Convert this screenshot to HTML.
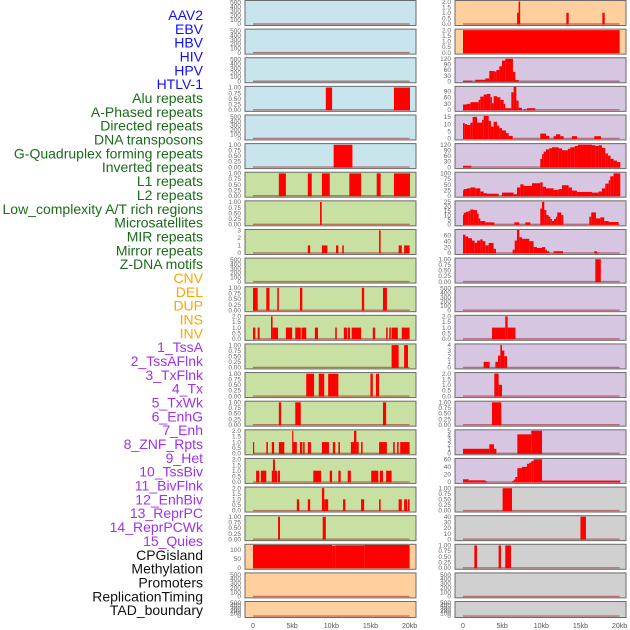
<!DOCTYPE html>
<html><head><meta charset="utf-8">
<style>
html,body{margin:0;padding:0;background:#fff;}
svg{display:block;font-family:"Liberation Sans",sans-serif;}
</style></head>
<body>
<svg id="chart" width="630" height="630" viewBox="0 0 630 630">
<g id="labels"></g>
<g id="panels"></g>
<g id="xaxes"></g>
</svg>
<script>
// ---------------- data ----------------
const trackLabels = ["AAV2","EBV","HBV","HIV","HPV","HTLV-1",
"Alu repeats","A-Phased repeats","Directed repeats","DNA transposons","G-Quadruplex forming repeats","Inverted repeats","L1 repeats","L2 repeats","Low_complexity A/T rich regions","Microsatellites","MIR repeats","Mirror repeats","Z-DNA motifs",
"CNV","DEL","DUP","INS","INV",
"1_TssA","2_TssAFlnk","3_TxFlnk","4_Tx","5_TxWk","6_EnhG","7_Enh","8_ZNF_Rpts","9_Het","10_TssBiv","11_BivFlnk","12_EnhBiv","13_ReprPC","14_ReprPCWk","15_Quies",
"CPGisland","Methylation","Promoters","ReplicationTiming","TAD_boundary"];
const labelGroupSizes = [6,13,5,15,5];
const labelGroupColors = ["#1010ff","#1a6b1a","#ffa500","#a030f0","#111111"];

const xTickValues = [0,5,10,15,20];
const xTickLabels = ["0","5kb","10kb","15kb","20kb"];

const T500 = ["0","100","200","300","400","500"];
const T1 = ["0.00","0.25","0.50","0.75","1.00"];
const T2 = ["0.0","0.5","1.0","1.5","2.0"];

// left column
const leftBg = ["b","b","b","b","b","b","g","g","g","g","g","g","g","g","g","g","g","g","g","p","p","p"];
const leftMax = [530,530,530,1.03,530,1.03,1.03,1.03,3.05,530,1.03,2.05,1.03,1.03,1.03,2.05,2.05,2.05,1.03,129,530,530];
const leftTicks = [T500,T500,T500,T1,T500,T1,T1,T1,["0","1","2","3"],T500,T1,T2,T1,T1,T1,T2,T2,T2,T1,["0","50","100"],T500,T500];
const leftSegs = [
[],[],[],
[[9.3,10.1,1],[18.0,20.05,1]],
[],
[[10.3,12.7,1]],
[[3.3,4.2,1],[7.0,7.5,1],[8.8,9.8,1],[12.3,13.8,1],[15.8,16.3,1],[18.0,20.05,1]],
[[8.56,8.77,1]],
[[7.0,7.3,1],[8.8,9.5,1],[10.6,10.9,1],[11.4,11.6,1],[16.1,16.3,3],[18.6,19.0,1],[19.3,20.0,1]],
[],
[[0,0.6,1],[1.7,2.1,1],[3.1,3.3,1],[6.0,6.3,1],[13.9,14.2,1],[16.6,17.1,1]],
[[0,0.3,1],[0.6,0.85,1],[2.3,2.5,2],[2.5,3.2,1],[4.2,5.0,1],[5.4,6.1,1],[6.2,6.8,1],[7.9,8.3,1],[10.5,10.7,1],[11.6,12.0,1],[12.1,12.4,1],[12.6,13.8,1],[15.3,15.6,1],[17.0,17.2,1],[17.4,17.6,1],[17.7,18.5,1],[19.0,20.0,1]],
[[17.7,18.6,1],[19.3,19.8,1]],
[[6.8,7.8,1],[8.4,9.1,1],[9.6,10.9,1],[15.0,15.3,1],[15.7,16.1,1]],
[[3.3,3.6,1],[5.4,6.1,1],[16.6,17.0,1]],
[[0,0.15,1],[1.7,1.9,1],[2.4,2.7,1],[3.3,4.0,1],[5.0,5.1,2],[5.1,5.6,1],[6.0,6.3,1],[6.4,6.6,1],[7.0,7.4,1],[8.8,9.7,1],[10.2,10.5,1],[10.9,11.1,1],[12.5,12.9,1],[12.9,13.2,2],[13.2,13.5,1],[13.8,14.0,1],[16.1,17.1,1],[17.9,18.1,1],[18.4,18.6,1],[18.8,20.0,1]],
[[0.4,0.8,1],[1.0,1.7,1],[2.4,2.55,1],[2.55,2.8,2],[2.8,3.1,1],[3.2,3.45,1],[7.7,8.7,1],[9.8,10.1,1],[10.9,11.2,1],[12.1,12.5,1],[15.1,16.0,1],[16.2,16.6,1],[17.0,17.7,1]],
[[5.6,5.9,1],[7.0,7.3,1],[8.8,9.1,2],[9.1,9.6,1],[11.5,11.8,1],[13.8,14.2,1],[16.1,16.3,1],[18.6,19.0,1],[19.3,19.7,1],[19.8,20.0,1]],
[[3.2,3.45,1],[8.9,9.3,1]],
[[0,10.1,128],[10.1,10.5,124],[10.5,14.2,126],[14.2,20.0,128]],
[],[]
];

// right column
const rightBg = ["p","p","u","u","u","u","u","u","u","u","u","u","u","u","u","u","u","k","k","k","k","k"];
const rightMax = [2.05,2.05,123,111,16,123,103,25.5,78,1.03,530,2.05,4.1,2.05,1.03,5.1,61,1.03,41,1.03,530,530];
const rightTicks = [T2,T2,["0","30","60","90","120"],["0","30","60","90"],["0","5","10","15"],["0","30","60","90","120"],["0","25","50","75","100"],["0","5","10","15","20","25"],["0","20","40","60"],T1,T500,T2,["0","1","2","3","4"],T2,T1,["0","1","2","3","4","5"],["0","20","40","60"],T1,["0","10","20","30","40"],T1,T500,T500];
const rightSegs = [
[[6.9,7.1,1],[7.1,7.3,2],[13.2,13.5,1],[17.8,18.1,1]],
[[0,20,2]],
[[0,1.15,3],[1.57,2.85,8],[2.85,3.36,15],[3.36,4.0,55],[4.0,4.26,52],[4.26,4.64,60],[4.64,4.98,80],[4.98,5.4,110],[5.4,6.38,120],[6.38,6.68,50],[6.68,7.1,7]],
[[0,0.51,26],[0.51,0.94,29],[0.94,2.0,37],[2.0,2.21,48],[2.21,2.64,64],[2.64,3.06,74],[3.06,3.49,77],[3.49,3.7,61],[3.7,3.91,32],[3.91,4.34,66],[4.34,4.77,61],[4.77,5.19,48],[5.19,5.4,29],[5.4,6.17,8],[6.17,6.47,85],[6.47,6.81,111],[6.81,7.1,45],[7.1,7.53,10],[7.74,8.17,3],[8.17,9.23,8]],
[[0,0.21,10.7],[0.21,0.51,10],[0.51,0.94,9.4],[0.94,1.23,11],[1.23,1.79,15],[1.79,2.43,11],[2.43,2.64,13],[2.64,3.28,15.7],[3.28,3.57,12.3],[3.57,3.91,8.3],[3.91,4.34,11.6],[4.34,4.64,8.9],[4.64,4.98,7.2],[4.98,5.49,5.6],[5.49,5.83,3.8],[5.83,6.34,1.8],[9.87,10.6,3.4],[10.6,11.02,1.8],[11.57,11.87,1.6],[11.87,12.43,2.9],[12.43,12.85,1.6],[13.91,14.55,1.6],[16.77,17.62,1.6]],
[[0,1.06,7],[9.87,10.09,44],[10.09,10.3,69],[10.3,10.6,83],[10.6,11.02,95],[11.02,11.36,101],[11.36,12.21,106],[12.21,12.64,100],[12.64,13.4,90],[13.4,13.7,98],[13.7,14.26,106],[14.26,14.68,113],[14.68,16.47,120],[16.47,16.89,117],[16.89,17.32,113],[17.32,17.74,117],[17.74,18.17,103],[18.17,18.51,73],[18.51,18.85,61],[18.85,19.23,44],[19.23,19.66,35],[19.66,20.09,27]],
[[0,0.09,23],[0.09,0.51,30],[0.51,0.94,33],[0.94,1.57,37],[1.57,2.21,33],[2.21,2.64,19],[2.64,3.06,11],[3.06,4.55,9],[4.98,6.47,14],[6.47,6.89,7],[6.89,7.32,37],[7.32,7.74,51],[7.74,8.81,44],[8.81,9.87,56],[9.87,10.17,60],[10.17,10.6,40],[10.6,11.57,33],[11.57,12.21,26],[12.21,12.64,30],[12.64,13.49,47],[13.49,13.91,37],[13.91,14.55,23],[14.55,16.47,17],[16.47,17.32,14],[17.32,17.74,19],[17.74,18.17,33],[18.17,18.6,54],[18.6,18.81,69],[18.81,19.23,87],[19.23,20.09,100]],
[[0,0.09,10.3],[0.09,0.38,12.9],[0.38,0.72,14],[0.72,0.94,15],[0.94,1.36,16.5],[1.36,1.79,15.8],[1.79,2.0,12],[2.0,2.21,6.6],[2.21,2.85,3.7],[2.85,4.0,2.2],[6.55,7.19,2.2],[7.96,8.6,2.2],[9.87,10.09,17.6],[10.09,10.38,25],[10.38,10.64,15.8],[10.64,10.94,10.3],[10.94,11.15,8.5],[11.15,11.36,5.9],[11.36,11.62,3.7],[11.62,11.87,5.9],[11.87,12.04,8.5],[12.04,12.55,13.2],[12.55,12.81,10.3],[16.13,16.38,8.5],[16.38,16.98,13.2],[16.98,17.53,6.6],[17.53,18.04,7.7],[18.04,18.6,3.7],[18.6,19.87,2.6]],
[[0,0.3,62],[0.3,0.64,56],[0.64,1.15,50],[1.15,1.49,42],[1.49,1.79,34],[1.79,2.21,42],[2.21,2.51,46],[2.51,2.85,40],[2.85,3.28,26],[3.28,3.91,34],[3.91,4.21,14],[6.34,6.6,11],[6.6,6.89,42],[6.89,7.19,78],[7.19,7.53,53],[7.53,8.47,48],[8.47,9.02,40],[9.02,9.45,20],[9.45,10.09,17],[10.09,10.51,20],[10.51,10.72,11],[10.72,11.02,6],[11.57,12.77,6],[16.77,17.11,6],[17.11,17.32,2]],
[[16.9,17.6,1]],
[],
[[3.7,5.4,1],[5.4,5.7,2],[5.7,6.7,1]],
[[2.64,3.4,1],[4.13,4.47,1],[4.47,4.77,2.1],[4.77,4.98,4],[4.98,5.28,3],[5.28,5.62,2]],
[[4.0,4.55,2],[4.55,4.98,1]],
[[3.7,4.89,1]],
[[0,3.36,1],[3.36,3.96,2],[3.96,4.26,1],[6.94,8.72,4.2],[8.72,10.09,5]],
[[0,0.72,7],[0.72,2.85,4.3],[2.85,3.06,2],[6.26,6.47,2],[6.47,6.68,6],[6.68,6.94,13],[6.94,7.53,36.5],[7.53,8.17,40],[8.17,8.47,48],[8.47,8.72,51],[8.72,9.02,55],[9.02,10.09,60],[10.09,20.09,3.5]],
[[5.06,6.26,1]],
[[15.0,15.7,40]],
[[1.45,1.79,1],[4.55,4.85,1],[5.4,6.13,1]],
[],[]
];

// ---------------- layout ----------------
const NS = "http://www.w3.org/2000/svg";
const bgColors = {b:"#c8e4ec", g:"#c8e0a2", p:"#ffd09e", u:"#d6c6e2", k:"#d0d0d0"};
const colX = [245, 455];
const panelW = 171;
const pxPerKb = 7.83;
function xScale(col, kb){ return colX[col] + 8 + kb*pxPerKb; }
function rowTop(i){ return 0.5 + i*28.62; }
function rowH(i){ return i===21 ? 16 : 25; }
function yScale(i, v, max){ const t=rowTop(i), h=rowH(i); const b=t+h-1.5; return b - (v/max)*(b-t-0.5); }

function mk(tag, attrs, parent){ const e=document.createElementNS(NS,tag); for(const k in attrs) e.setAttribute(k,attrs[k]); parent.appendChild(e); return e; }

// labels
const lg = document.getElementById('labels');
let idx=0;
labelGroupSizes.forEach((n,g)=>{
  for(let j=0;j<n;j++){
    const t = mk('text',{x:203, y:(20+idx*13.84).toFixed(2), 'text-anchor':'end', 'font-size':'14', fill:labelGroupColors[g]}, lg);
    t.textContent = trackLabels[idx];
    
    
    idx++;
  }
});

// panels
const pg = document.getElementById('panels');
function drawPanel(col, i, bg, max, ticks, segs){
  const g = mk('g',{}, pg);
  
  
  const t=rowTop(i), h=rowH(i);
  const r = mk('rect',{x:colX[col], y:t, width:panelW, height:h, fill:bgColors[bg], stroke:'#555', 'stroke-width':1, 'stroke-opacity':0.85}, g);
  
  
  // baseline
  const bl = mk('line',{x1:xScale(col,0), x2:xScale(col,20), y1:t+h-1.5, y2:t+h-1.5, stroke:'#a02020', 'stroke-opacity':0.55, 'stroke-width':1.4}, g);
  
  
  segs.forEach(s=>{
    const x1=xScale(col,s[0]), x2=xScale(col,s[1]);
    const y=yScale(i,s[2],max), yb=t+h-1;
    const b = mk('rect',{x:x1.toFixed(2), y:Math.max(t+0.5,y).toFixed(2), width:Math.max(1.2,x2-x1).toFixed(2), height:(yb-Math.max(t+0.5,y)).toFixed(2), fill:'#ff0000'}, g);
    
    
  });
  ticks.forEach(lbl=>{
    const v=parseFloat(lbl);
    const tx = mk('text',{x:colX[col]-4, y:(yScale(i,v,max)+2.2).toFixed(2), 'text-anchor':'end', 'font-size':'6.5', fill:'#666'}, g);
    tx.textContent = lbl;
    
    
  });
}
for(let i=0;i<22;i++){
  drawPanel(0,i,leftBg[i],leftMax[i],leftTicks[i],leftSegs[i]);
  drawPanel(1,i,rightBg[i],rightMax[i],rightTicks[i],rightSegs[i]);
}

// x axes
const xg = document.getElementById('xaxes');
[0,1].forEach(col=>{
  xTickValues.forEach((v,k)=>{
    const tx = mk('text',{x:xScale(col,v).toFixed(2), y:628, 'text-anchor':'middle', 'font-size':'7', fill:'#555'}, xg);
    tx.textContent = xTickLabels[k];
    
    
  });
});
</script>
</body></html>
